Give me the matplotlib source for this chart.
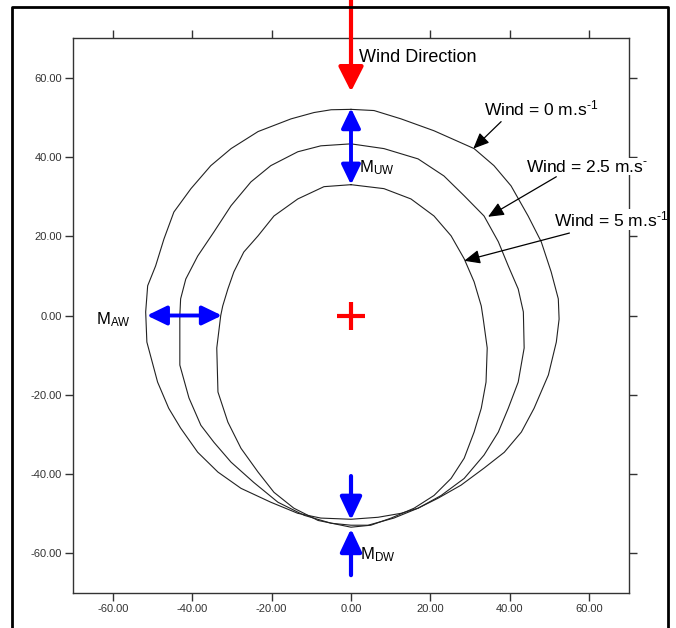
import numpy as np
import matplotlib
matplotlib.use("Agg")
import matplotlib.pyplot as plt
from matplotlib.patches import FancyArrowPatch
from matplotlib.lines import Line2D

plt.rcParams['font.family'] = ['Liberation Sans', 'DejaVu Sans']
plt.rcParams['mathtext.fontset'] = 'custom'
plt.rcParams['mathtext.rm'] = 'Liberation Sans'
plt.rcParams['mathtext.it'] = 'Liberation Sans:italic'

# plume outlines (m), traced counter-clockwise from the upwind point
wind0_x = [0, -5.0, -9.3, -15.1, -23.4, -30.2, -35.3, -40.3, -44.6, -47.1, -49.2, -51.2,
           -51.7, -51.4, -48.7, -45.9, -42.9, -38.6, -33.5, -27.7, -20.2, -13.4, -7.6, 0,
           6.8, 12.6, 16.9, 21.9, 27.7, 33.5, 38.6, 42.9, 46.1, 49.7, 51.7, 52.4,
           52.2, 50.4, 47.9, 44.6, 40.3, 36.0, 31.0, 20.9, 12.6, 5.8, 0]
wind0_y = [52.0, 51.9, 51.2, 49.6, 46.4, 42.1, 37.8, 32.0, 26.1, 19.3, 12.5, 7.5,
           0.9, -6.7, -16.8, -23.4, -28.4, -34.5, -39.5, -43.6, -47.1, -49.9, -51.1, -51.4,
           -50.9, -49.9, -48.6, -46.1, -42.8, -38.5, -34.5, -29.4, -23.4, -15.0, -6.7, -0.9,
           4.2, 11.0, 18.6, 25.1, 32.7, 37.8, 42.1, 46.6, 49.6, 51.7, 52.0]

wind25_x = [0, -7.6, -13.4, -20.2, -25.2, -30.2, -34.5, -38.6, -41.6, -42.9, -43.1,
            -43.1, -40.8, -37.8, -34.5, -30.2, -24.5, -18.4, -11.8, -5.0, 0,
            4.3, 10.8, 16.9, 22.7, 28.5, 33.5, 37.1, 39.6, 42.1, 43.6,
            43.4, 42.1, 39.6, 37.1, 33.5, 28.5, 23.4, 16.9, 8.3, 0]
wind25_y = [43.3, 42.8, 41.3, 37.8, 33.7, 27.7, 21.1, 15.0, 9.2, 4.2, 0,
            -12.5, -20.8, -27.7, -32.0, -37.0, -42.1, -47.1, -50.4, -52.4, -52.9,
            -52.9, -51.1, -48.6, -45.4, -41.1, -35.2, -29.4, -23.4, -16.8, -8.2,
            0.9, 6.7, 12.5, 18.6, 25.1, 30.2, 35.2, 39.5, 42.1, 43.3]

wind5_x = [0, -6.8, -13.4, -19.4, -23.4, -27.0, -29.5, -31.0, -32.3, -32.8,
           -33.8, -33.5, -31.0, -27.7, -23.4, -19.4, -14.4, -8.3, 0,
           5.0, 10.1, 15.9, 20.9, 25.2, 28.5, 31.0, 32.8, 34.0, 34.3,
           33.3, 32.8, 31.0, 28.5, 25.2, 20.9, 15.1, 8.3, 0]
wind5_y = [33.0, 32.5, 29.4, 25.1, 20.1, 16.0, 11.0, 6.7, 2.4, 0,
           -8.2, -19.3, -26.9, -33.5, -39.5, -44.6, -48.6, -51.7, -53.4,
           -52.9, -51.1, -48.6, -45.4, -41.1, -36.0, -29.4, -23.4, -16.8, -8.2,
           -0.9, 2.4, 8.5, 14.3, 20.1, 25.1, 29.4, 32.0, 33.0]

ticks = [-60, -40, -20, 0, 20, 40, 60]

fig = plt.figure(figsize=(6.76, 6.28), dpi=100)
ax = fig.add_axes([73/676, 1 - 593/628, 556/676, 555/628])

for xs, ys in [(wind0_x, wind0_y), (wind25_x, wind25_y), (wind5_x, wind5_y)]:
    ax.plot(xs, ys, color='#222222', lw=0.8)

ax.set_xlim(-70, 70)
ax.set_ylim(-70, 70)
ax.set_xticks(ticks)
ax.set_yticks(ticks)
ax.set_xticklabels(['%.2f' % t for t in ticks])
ax.set_yticklabels(['%.2f' % t for t in ticks])
ax.tick_params(direction='out', length=6, width=1, color='#333333', labelsize=8,
               labelcolor='#333333', top=True, right=True, pad=2)
for s in ax.spines.values():
    s.set_color('#333333')
    s.set_linewidth(1)

# source point
ax.plot(0, 0, marker='+', color='red', markersize=20, mew=3, zorder=5)

def arrow(p0, p1, color, lw, style, scale):
    a = FancyArrowPatch(p0, p1, arrowstyle=style, mutation_scale=scale, color=color,
                        lw=lw, shrinkA=0, shrinkB=0, clip_on=False, zorder=6)
    ax.add_patch(a)

# wind direction
arrow((0, 80), (0, 56.5), 'red', 3.0, '-|>,head_length=0.75,head_width=0.38', 20)
ax.text(2.0, 64.0, 'Wind Direction', fontsize=13, va='baseline', ha='left')

# margins
arrow((0, 33.0), (0, 52.3), 'blue', 2.8, '<|-|>,head_length=0.6,head_width=0.29', 20)
arrow((-32.5, 0), (-51.4, 0), 'blue', 2.8, '<|-|>,head_length=0.6,head_width=0.29', 20)
arrow((0, -40.5), (0, -51.6), 'blue', 3.0, '-|>,head_length=0.7,head_width=0.33', 20)
arrow((0, -65.5), (0, -53.8), 'blue', 3.0, '-|>,head_length=0.7,head_width=0.33', 20)
ax.text(2.0, 36.0, r'M$_{\mathrm{UW}}$', fontsize=12, va='baseline')
ax.text(-64.3, -2.1, r'M$_{\mathrm{AW}}$', fontsize=12, va='baseline')
ax.text(2.3, -61.5, r'M$_{\mathrm{DW}}$', fontsize=12, va='baseline')

# curve labels
labels = [r'Wind = 0 m.s$^{\text{-1}}$', r'Wind = 2.5 m.s$^{\text{-}}$', r'Wind = 5 m.s$^{\text{-1}}$']
label_pos = [(33.5, 50.5), (44.1, 36.3), (51.2, 22.4)]
tails = [(37.8, 48.9), (51.7, 35.0), (55.0, 20.8)]
tips = [(30.8, 42.1), (34.5, 24.9), (28.5, 13.8)]
for lab, pos, t0, t1 in zip(labels, label_pos, tails, tips):
    ax.text(pos[0], pos[1], lab, fontsize=12.5, va='baseline', ha='left', zorder=4,
            bbox=dict(facecolor='white', edgecolor='none', pad=0.5))
    arrow(t0, t1, 'black', 0.9, '-|>,head_length=0.8,head_width=0.35', 12)

# outer frame
fx0, fx1, fy1 = 12/676, 668/676, 1 - 7/628
fig.add_artist(Line2D([fx0, fx0, fx1, fx1], [-0.1, fy1, fy1, -0.1], color='black', lw=2))

fig.savefig('out.png', dpi=100)
